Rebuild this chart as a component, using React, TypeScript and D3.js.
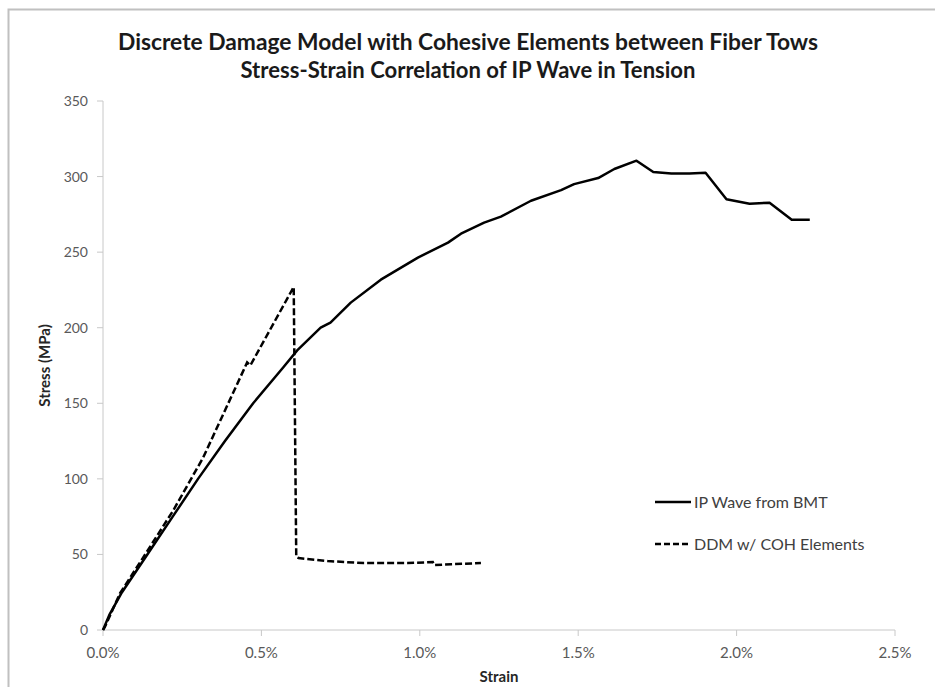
import React from "react";
import * as d3 from "d3";

// strain in %, stress in MPa
const bmtStrain = [0, 0.02, 0.06, 0.14, 0.22, 0.3, 0.385, 0.474, 0.57, 0.613, 0.687, 0.718, 0.782, 0.877, 0.994, 1.089, 1.13, 1.203, 1.256, 1.351, 1.446, 1.487, 1.563, 1.614, 1.684, 1.737, 1.794, 1.851, 1.902, 1.968, 2.041, 2.104, 2.174, 2.231];
const bmtStress = [0, 10, 25, 50, 75, 100, 125, 150, 174, 185, 200, 203.4, 216.6, 231.8, 246.4, 256.3, 262.2, 269.5, 273.5, 284, 291, 295, 299, 305, 310.5, 303, 302, 302, 302.5, 285, 282, 282.7, 271.5, 271.5];

const ddmStrain = [0, 0.006, 0.054, 0.127, 0.2215, 0.316, 0.455, 0.465, 0.602, 0.61, 0.617, 0.709, 0.823, 0.962, 1.041, 1.045, 1.1, 1.193];
const ddmStress = [0, 2, 24.4, 48, 79, 114, 177, 175, 227, 48.4, 47.6, 45.6, 44.3, 44.3, 44.9, 42.9, 43.5, 44.3];

const xTicks = [0, 0.5, 1.0, 1.5, 2.0, 2.5];
const yTicks = [0, 50, 100, 150, 200, 250, 300, 350];

const titleLines = [
  "Discrete Damage Model with Cohesive Elements between Fiber Tows",
  "Stress-Strain Correlation of IP Wave in Tension",
];
const titleWidths = [700, 455];
const seriesNames = ["IP Wave from BMT", "DDM w/ COH Elements"];

const W = 935;
const H = 687;
const margin = { left: 103, right: 40, top: 101, bottom: 57 };

export default function App() {
  const x = d3.scaleLinear().domain([0, 2.5]).range([margin.left, W - margin.right]);
  const y = d3.scaleLinear().domain([0, 350]).range([H - margin.bottom, margin.top]);

  const line = d3
    .line<[number, number]>()
    .x((d) => x(d[0]))
    .y((d) => y(d[1]));

  const bmt = bmtStrain.map((s, i) => [s, bmtStress[i]] as [number, number]);
  const ddm = ddmStrain.map((s, i) => [s, ddmStress[i]] as [number, number]);

  const axisColor = "#c8c8c8";
  const labelColor = "#595959";
  const font = "Lato, 'Open Sans', sans-serif";
  const y0 = y(0);

  return (
    <svg
      width={W}
      height={H}
      style={{ position: "absolute", left: 0, top: 0, background: "#fff" }}
      fontFamily={font}
    >
      {/* chart frame */}
      <rect x={8.5} y={9.5} width={W + 20} height={H + 20} fill="none" stroke="#c0c0c0" strokeWidth={2} />

      {titleLines.map((t, i) => (
        <text
          key={i}
          x={468}
          y={50 + i * 28}
          textAnchor="middle"
          fontSize={22}
          fontWeight="bold"
          fill="#1a1a1a"
          textLength={titleWidths[i]}
          lengthAdjust="spacingAndGlyphs"
        >
          {t}
        </text>
      ))}

      {/* axes */}
      <line x1={x(0)} x2={x(0)} y1={y(350)} y2={y0} stroke={axisColor} />
      <line x1={x(0)} x2={x(2.5)} y1={y0} y2={y0} stroke={axisColor} />
      {yTicks.map((t) => (
        <g key={t}>
          <line x1={x(0) - 6} x2={x(0)} y1={y(t)} y2={y(t)} stroke={axisColor} />
          <text x={x(0) - 15} y={y(t) + 5} textAnchor="end" fontSize={14} fill={labelColor}>
            {t}
          </text>
        </g>
      ))}
      {xTicks.map((t) => (
        <g key={t}>
          <line x1={x(t)} x2={x(t)} y1={y0} y2={y0 + 6} stroke={axisColor} />
          <text x={x(t)} y={y0 + 28} textAnchor="middle" fontSize={15} fill={labelColor}>
            {d3.format(".1f")(t)}%
          </text>
        </g>
      ))}

      <text x={(x(0) + x(2.5)) / 2} y={682} textAnchor="middle" fontSize={15} fontWeight="bold" fill="#262626">
        Strain
      </text>
      <text
        transform={`translate(50,${(y(0) + y(350)) / 2}) rotate(-90)`}
        textAnchor="middle"
        fontSize={15}
        fontWeight="bold"
        fill="#262626"
      >
        Stress (MPa)
      </text>

      {/* series */}
      <path d={line(bmt) || ""} fill="none" stroke="#000" strokeWidth={2.5} strokeLinejoin="round" />
      <path d={line(ddm) || ""} fill="none" stroke="#000" strokeWidth={2.5} strokeDasharray="7,3" />

      {/* legend */}
      {seriesNames.map((n, i) => (
        <g key={n} transform={`translate(655,${502 + i * 42})`}>
          <line x1={0} x2={36} y1={0} y2={0} stroke="#000" strokeWidth={2.5} strokeDasharray={i === 1 ? "6,3" : undefined} />
          <text x={39} y={6} fontSize={16} fill="#404040">
            {n}
          </text>
        </g>
      ))}
    </svg>
  );
}
